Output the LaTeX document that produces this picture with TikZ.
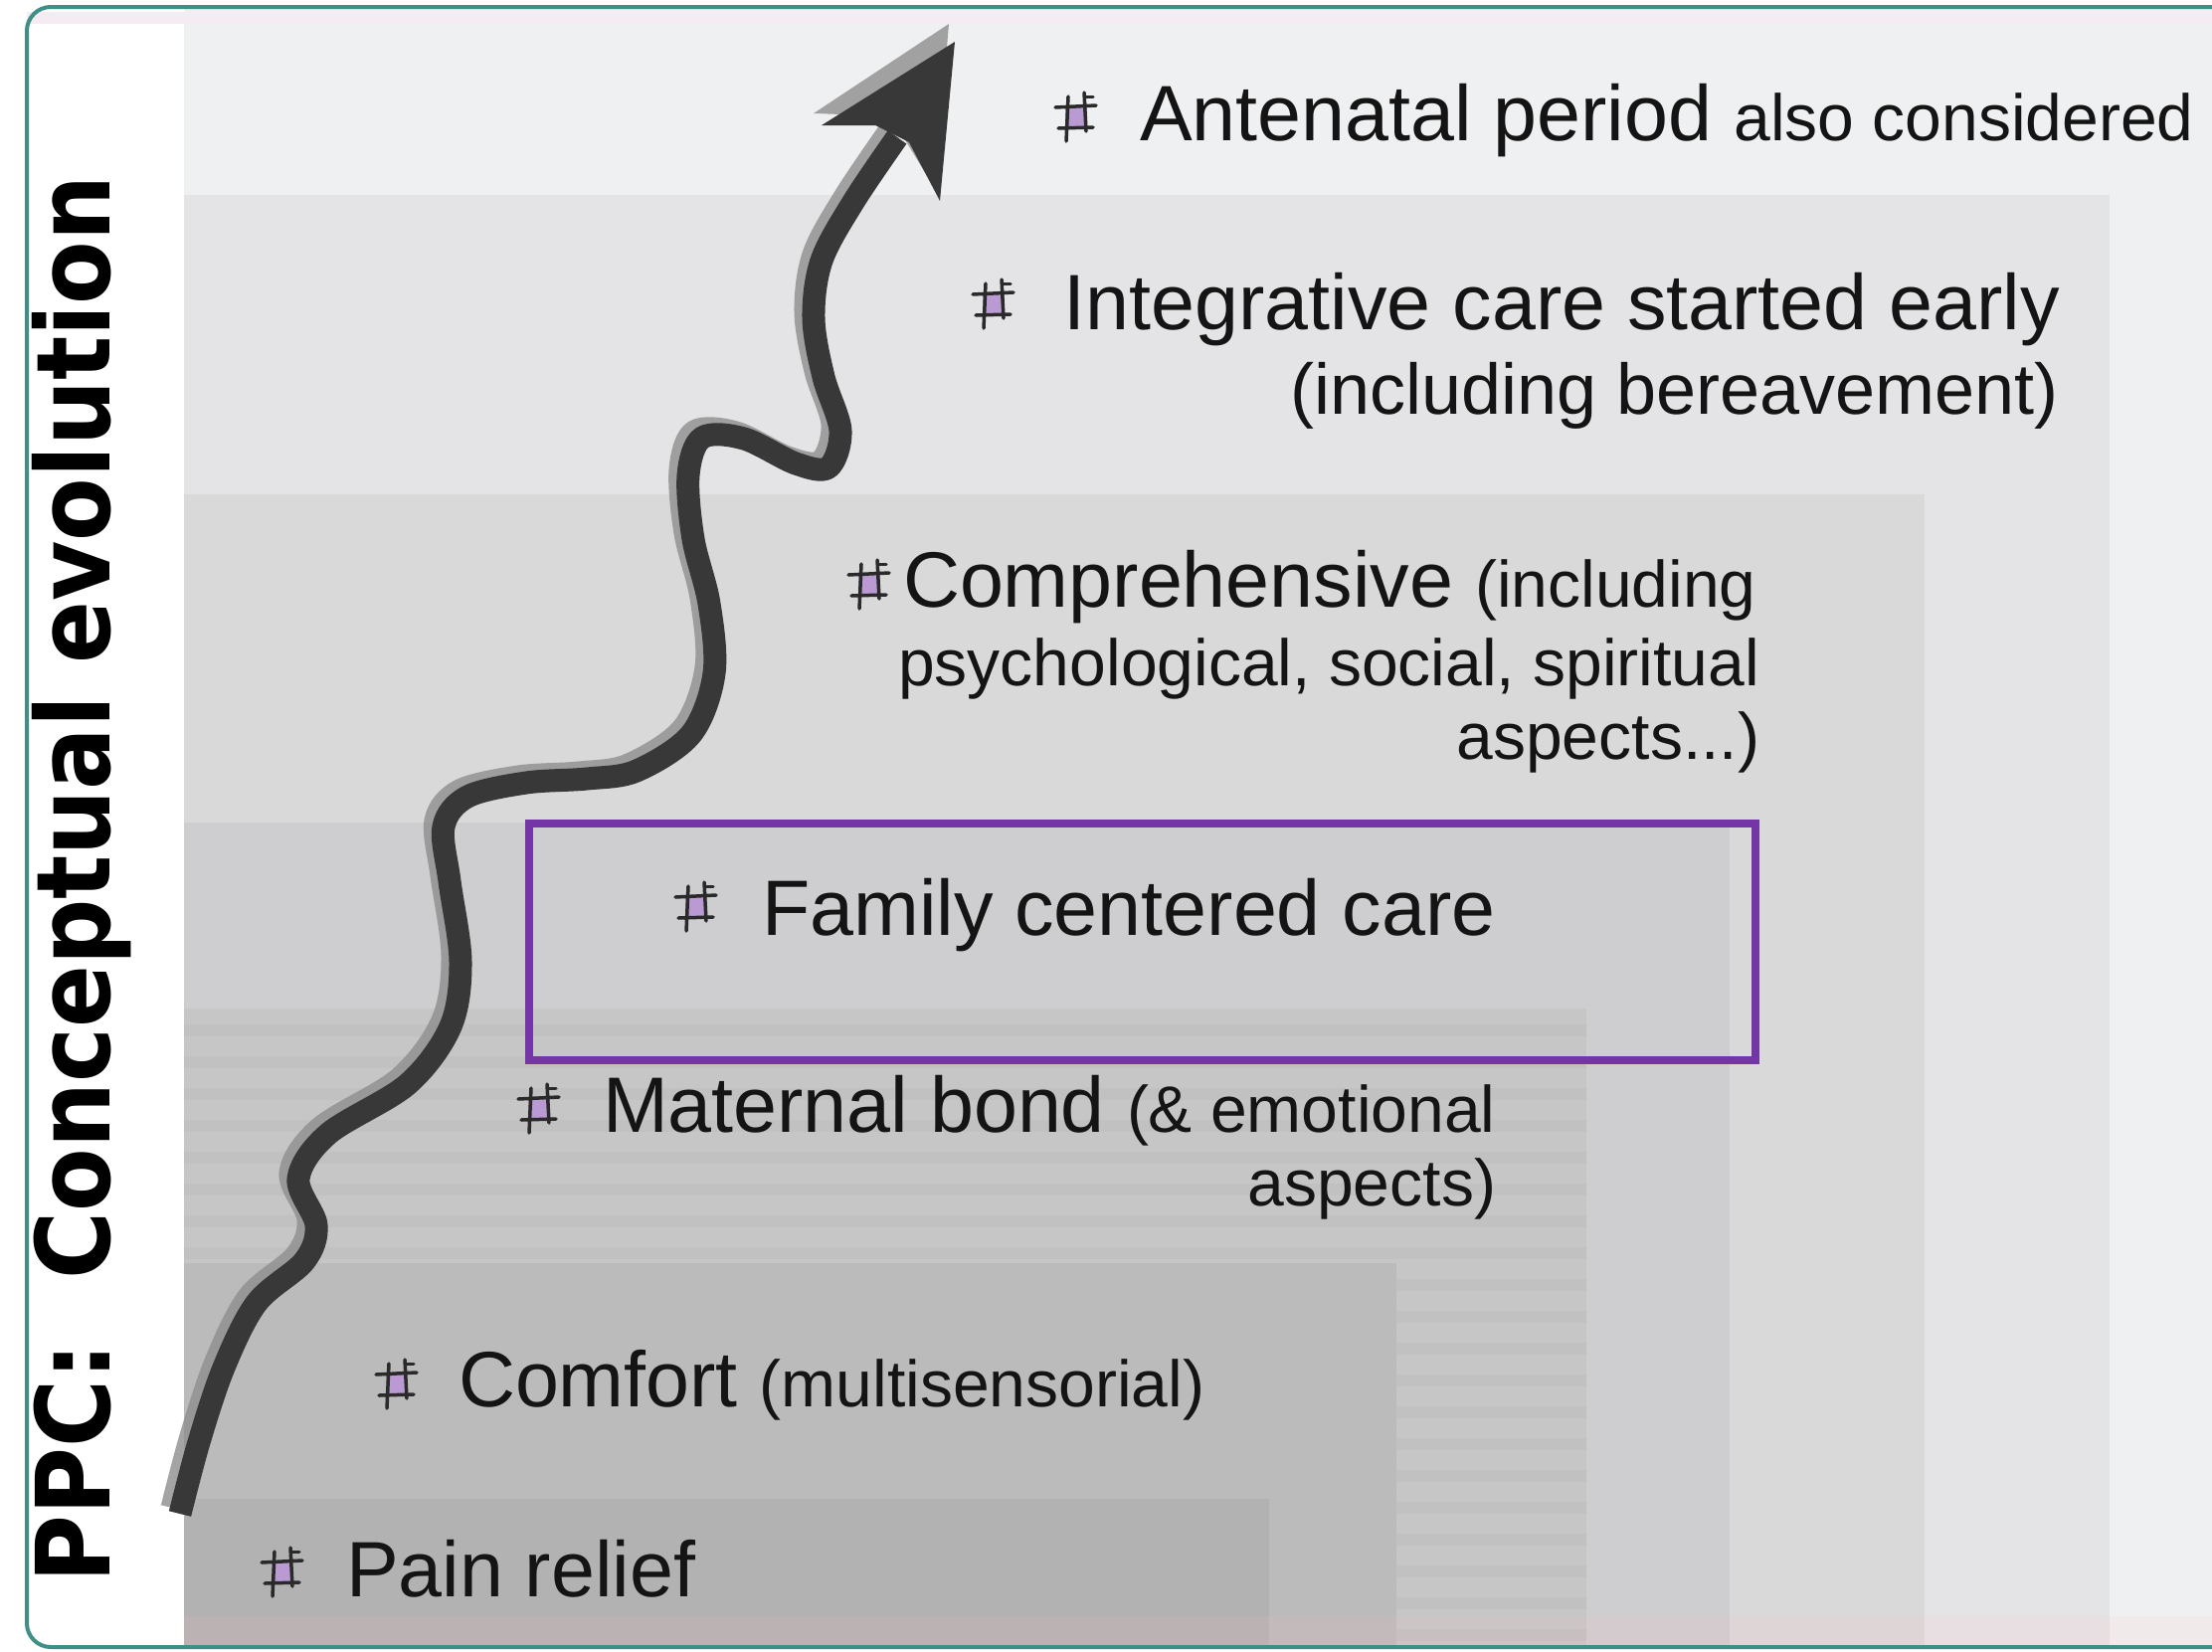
\documentclass[tikz,border=0pt]{standalone}
\usepackage{fontspec}
\setmainfont{Liberation Sans}
\newfontfamily\titlefont{DejaVu Sans}[FakeStretch=0.9]
\definecolor{frameteal}{HTML}{3F8F86}
\definecolor{lvA}{HTML}{EFF0F2}
\definecolor{lvB}{HTML}{E4E4E6}
\definecolor{lvC}{HTML}{D9D9DA}
\definecolor{lvD}{HTML}{CECDCF}
\definecolor{lvE}{HTML}{C6C6C6}
\definecolor{lvEs}{HTML}{C1C1C1}
\definecolor{lvF}{HTML}{BBBBBB}
\definecolor{lvG}{HTML}{B2B2B2}
\definecolor{arrowdark}{HTML}{383838}
\definecolor{arrowshade}{HTML}{8E8E8E}
\definecolor{boxpurple}{HTML}{7435A6}
\definecolor{bulfill}{HTML}{B99AD3}
\definecolor{bulline}{HTML}{2A2A2A}
\definecolor{txtcol}{HTML}{141414}
\definecolor{toppink}{HTML}{F5ECF3}
\newcommand\bigsz{\fontsize{79}{90}\selectfont}
\newcommand\smsz{\fontsize{66}{76}\selectfont}
\newcommand\midsz{\fontsize{72}{82}\selectfont}
\begin{document}
\begin{tikzpicture}[x=1pt,y=-1pt,
  txt/.style={inner sep=0pt, outer sep=0pt, text=txtcol, font=\bigsz},
  shaftmain/.style={draw=arrowdark, line width=23pt, line join=round},
  shaftshade/.style={draw=arrowshade, line width=23pt, line join=round, opacity=0.8},
  hashbul/.pic={
    \fill[bulfill] (-11,-11) rectangle (11,11);
    \draw[bulline, line width=3.5pt, line cap=round] (-10,24) -- (-8,-21) (10,14) -- (8,-25) (-21,-10) -- (20,-12) (-18,11) -- (17,10);
    \draw[bulline, line width=3pt, line cap=round] (9,-21) -- (17,-21);
  }]
\useasboundingbox (0,0) rectangle (2224,1660);
\clip (0,0) rectangle (2224,1660);
\fill[white] (0,0) rectangle (2224,1660);
% nested levels
\fill[lvA] (185,8) rectangle (2224,1656);
\fill[toppink] (27,12) rectangle (2224,24);
\fill[lvB] (185,196) rectangle (2121,1656);
\fill[lvC] (185,497) rectangle (1935,1656);
\fill[lvD] (185,827) rectangle (1739,1656);
\fill[lvE] (185,1014) rectangle (1595,1656);
\foreach \yy in {1030,1062,...,1640} \fill[lvEs] (185,\yy) rectangle (1595,\yy+12);
\fill[lvF] (185,1270) rectangle (1404,1656);
\fill[lvG] (185,1507) rectangle (1276,1656);
\fill[pink, opacity=0.12] (185,1625) rectangle (2224,1656);
% frame
\draw[frameteal, line width=4pt, rounded corners=24pt] (27,7) rectangle (2330,1656);
% arrow shadow
\begin{scope}[shift={(-8,-6)}]
\draw[shaftshade] plot[smooth, tension=0.55] coordinates {(181,1522) (200,1450) (225,1375) (258,1310) (306,1268) (318,1232) (300,1185) (330,1140) (410,1090) (453,1032) (463,967) (452,886) (446,831) (470,801) (529,787) (590,783) (640,775) (695,738) (718,677) (713,607) (697,542) (692,478) (706,440) (748,441) (800,466) (833,470) (845,433) (828,379) (818,320) (826,262) (858,203) (902,138)};
\end{scope}
\fill[arrowshade, opacity=0.8] (954,24) -- (818,114) -- (874,116) -- (906,134) -- (940,190) -- cycle;
% arrow
\draw[shaftmain] plot[smooth, tension=0.55] coordinates {(181,1522) (200,1450) (225,1375) (258,1310) (306,1268) (318,1232) (300,1185) (330,1140) (410,1090) (453,1032) (463,967) (452,886) (446,831) (470,801) (529,787) (590,783) (640,775) (695,738) (718,677) (713,607) (697,542) (692,478) (706,440) (748,441) (800,466) (833,470) (845,433) (828,379) (818,320) (826,262) (858,203) (902,138)};
\fill[arrowdark] (960,42) -- (826,126) -- (880,126) -- (914,143) -- (945,202) -- cycle;
% highlighted box
\node[draw=boxpurple, line width=8pt, minimum width=1233pt, minimum height=238pt, inner sep=0pt, anchor=north west] (famBox) at (528,824) {};
% bullets
\pic at (1082,118) {hashbul};
\pic at (999,306) {hashbul};
\pic at (874,588) {hashbul};
\pic at (700,912) {hashbul};
\pic at (542,1115) {hashbul};
\pic at (399,1392) {hashbul};
\pic at (284,1581) {hashbul};
% texts
\node[txt, anchor=base west] (ante) at (1146,141) {Antenatal period {\smsz also considered}};
\node[txt, anchor=base east] (integ) at (2071,331) {Integrative care started early};
\node[txt, anchor=base east] (integb) at (2070,416) {\midsz (including bereavement)};
\node[txt, anchor=base west] (comp) at (908,610) {Comprehensive {\smsz (including}};
\node[txt, anchor=base east] (compb) at (1769,689) {\smsz psychological, social, spiritual};
\node[txt, anchor=base east] (compc) at (1769,763) {\smsz aspects...)};
\node[txt, anchor=base west] (fam) at (766,940) {Family centered care};
\node[txt, anchor=base west] (mat) at (606,1138) {Maternal bond {\smsz (\& emotional}};
\node[txt, anchor=base east] (matb) at (1504,1212) {\smsz aspects)};
\node[txt, anchor=base west] (comf) at (461,1414) {Comfort {\smsz (multisensorial)}};
\node[txt, anchor=base west] (pain) at (348,1605) {Pain relief};
% title
\node[rotate=90, anchor=base west, inner sep=0pt, text=black, font=\titlefont\bfseries\fontsize{103}{110}\selectfont] (title) at (110,1592) {PPC:\ \ Conceptual evolution};
\end{tikzpicture}
\end{document}
